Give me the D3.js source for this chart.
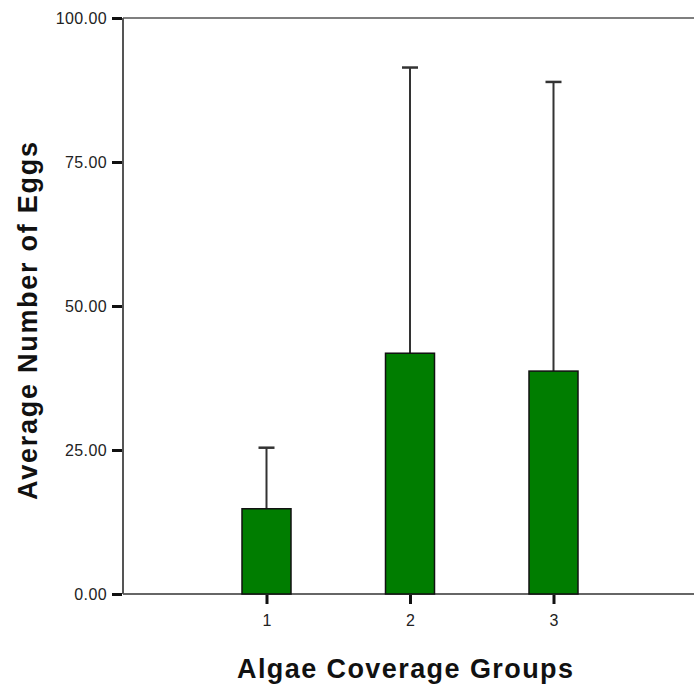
<!DOCTYPE html>
<html><head><meta charset="utf-8">
<script src="https://cdn.jsdelivr.net/npm/d3@7"></script>
<style>body{margin:0;background:#fff}svg{display:block}</style>
</head><body>
<script>
const categories = ["1", "2", "3"];
const means = [14.8, 41.8, 38.7];
const upperErr = [25.4, 91.4, 88.9];
const yTicks = [0, 25, 50, 75, 100];

(function () {
const W = 694, H = 692;
const font = "Liberation Sans, Arial, sans-serif";
const svg = d3.select("body").append("svg").attr("width", W).attr("height", H);
const mLeft = 123, mTop = 18, mBottom = 594;
const x = d3.scaleLinear().domain([0, 4]).range([mLeft, 697]);
const y = d3.scaleLinear().domain([0, 100]).range([mBottom, mTop]);

// frame
svg.append("line").attr("x1", mLeft).attr("x2", W + 5).attr("y1", mTop).attr("y2", mTop)
  .attr("stroke", "#555").attr("stroke-width", 1.5);
svg.append("line").attr("x1", mLeft).attr("x2", W + 5).attr("y1", mBottom).attr("y2", mBottom)
  .attr("stroke", "#666").attr("stroke-width", 2);
svg.append("line").attr("x1", mLeft).attr("x2", mLeft).attr("y1", mTop).attr("y2", mBottom)
  .attr("stroke", "#555").attr("stroke-width", 2);

// y axis
const yAxis = d3.axisLeft(y).tickValues(yTicks).tickFormat(d3.format(".2f")).tickSize(10).tickPadding(5);
const gy = svg.append("g").attr("transform", `translate(${mLeft - 1},0)`).call(yAxis);
gy.select(".domain").remove();
gy.selectAll("line").attr("stroke", "#111").attr("stroke-width", 3);
gy.selectAll("text").attr("font-family", font).attr("font-size", 16).attr("fill", "#222")
  .attr("letter-spacing", 0.4).attr("dy", "0.36em");

// x axis
const xAxis = d3.axisBottom(x).tickValues([1, 2, 3]).tickFormat((d, i) => categories[i]).tickSize(9).tickPadding(11);
const gx = svg.append("g").attr("transform", `translate(0,${mBottom + 1})`).call(xAxis);
gx.select(".domain").remove();
gx.selectAll("line").attr("stroke", "#111").attr("stroke-width", 3);
gx.selectAll("text").attr("font-family", font).attr("font-size", 16).attr("fill", "#222");

const bw = 49, cap = 16;
const data = means.map((m, i) => ({ c: i + 1, m, u: upperErr[i] }));

// error bars
svg.selectAll(".err").data(data).enter().append("line")
  .attr("x1", d => x(d.c)).attr("x2", d => x(d.c))
  .attr("y1", d => y(d.m)).attr("y2", d => y(d.u))
  .attr("stroke", "#333").attr("stroke-width", 2);
svg.selectAll(".cap").data(data).enter().append("line")
  .attr("x1", d => x(d.c) - cap / 2).attr("x2", d => x(d.c) + cap / 2)
  .attr("y1", d => y(d.u)).attr("y2", d => y(d.u))
  .attr("stroke", "#333").attr("stroke-width", 2.5);

// bars
svg.selectAll(".bar").data(data).enter().append("rect")
  .attr("x", d => x(d.c) - bw / 2).attr("width", bw)
  .attr("y", d => y(d.m)).attr("height", d => y(0) - y(d.m))
  .attr("fill", "#007d00").attr("stroke", "#111").attr("stroke-width", 1.5);

// titles
svg.append("text").attr("transform", "translate(37,321) rotate(-90)")
  .attr("text-anchor", "middle").attr("font-family", font)
  .attr("font-weight", "bold").attr("font-size", 27).attr("fill", "#111")
  .attr("textLength", 358).attr("lengthAdjust", "spacing")
  .text("Average Number of Eggs");
svg.append("text").attr("x", 405).attr("y", 678)
  .attr("text-anchor", "middle").attr("font-family", font)
  .attr("font-weight", "bold").attr("font-size", 27).attr("fill", "#111")
  .attr("textLength", 336).attr("lengthAdjust", "spacing")
  .text("Algae Coverage Groups");
})();
</script>
</body></html>
